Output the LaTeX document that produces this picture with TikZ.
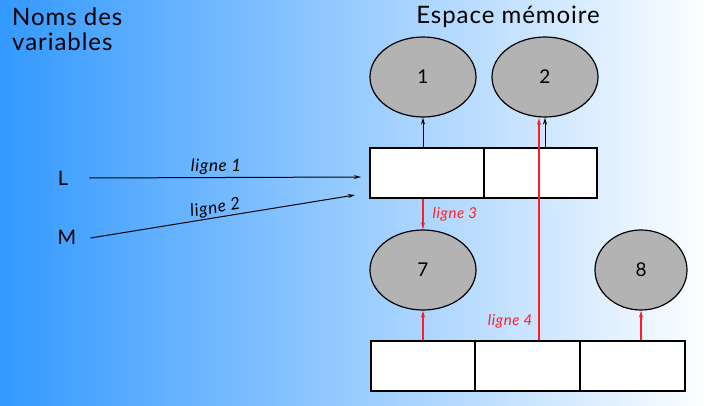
\documentclass[tikz,border=0pt]{standalone}
\usepackage{fontspec}
\setmainfont{Lato}
\newfontfamily\spaced[LetterSpace=4]{Lato}
\usetikzlibrary{arrows.meta,shapes.geometric}
\definecolor{bgblue}{RGB}{51,153,255}
\definecolor{ovalgray}{RGB}{179,179,179}
\definecolor{redline}{RGB}{255,30,40}
\tikzset{
  oval/.style={ellipse, draw=black, line width=1.2pt, fill=ovalgray, minimum width=106pt, minimum height=80pt, inner sep=0pt, font=\fontsize{19}{20}\selectfont},
  cell/.style={rectangle, draw=black, line width=1.2pt, fill=white, minimum height=50pt, inner sep=0pt},
  heading/.style={font=\spaced\fontsize{24}{27}\selectfont, align=left, inner sep=0pt},
  varname/.style={font=\fontsize{20}{21}\selectfont, inner sep=0pt},
  blk/.style={draw=black, line width=1pt, -{Stealth[length=7pt,width=4pt,open,fill=white]}},
  rd/.style={draw=redline, line width=1.4pt, -{Stealth[length=7pt,width=4pt,open,fill=white]}},
  lbl/.style={font=\spaced\itshape\fontsize{17}{19}\selectfont, inner sep=1pt},
  rlbl/.style={font=\spaced\itshape\fontsize{15}{17}\selectfont, text=redline, inner sep=1pt}
}
\begin{document}
\begin{tikzpicture}[x=1pt,y=-1pt]
\shade[left color=bgblue, right color=white] (0,0) rectangle (714,406);
\useasboundingbox (0,0) rectangle (714,406);

\node[heading, anchor=north west] (hv) at (12,8) {Noms des\\[-2pt]variables};
\node[heading, anchor=north] (hm) at (508,6) {Espace mémoire};

\node[oval] (o1) at (423,77) {1};
\node[oval] (o2) at (545,77) {2};
\node[oval] (o7) at (423,270) {7};
\node[oval, minimum width=92pt] (o8) at (641,270) {8};

\node[cell, minimum width=114pt] (t1) at (427,173) {};
\node[cell, minimum width=113pt] (t2) at (540.5,173) {};

\node[cell, minimum width=104pt] (b1) at (423,366) {};
\node[cell, minimum width=105pt] (b2) at (527.5,366) {};
\node[cell, minimum width=105pt] (b3) at (632.5,366) {};

\node[varname] (L) at (63,178) {L};
\node[varname] (M) at (67,237) {M};

\coordinate (e1) at (361,177);
\coordinate (e2) at (355,195);
\draw[blk] ([xshift=21pt]L.east) -- (e1) node[lbl, midway, above=1pt, xshift=-9pt] {ligne 1};
\draw[blk] ([xshift=14pt,yshift=-1pt]M.east) -- (e2) node[lbl, midway, sloped, above=0pt, xshift=-6pt] {ligne 2};

\draw[blk] (t1.north -| o1.south) -- (o1.south);
\draw[blk] (t2.north -| 545,0) -- (o2.south);

\draw[rd] (t1.south -| o1.south) -- (o7.north) node[rlbl, midway, right=8pt] {ligne 3};
\draw[rd] (b2.north -| 539,0) -- (539,118) node[rlbl, pos=0.085, left=5pt] {ligne 4};
\draw[rd] (b1.north -| o7.south) -- (o7.south);
\draw[rd] (b3.north -| o8.south) -- (o8.south);
\end{tikzpicture}
\end{document}
